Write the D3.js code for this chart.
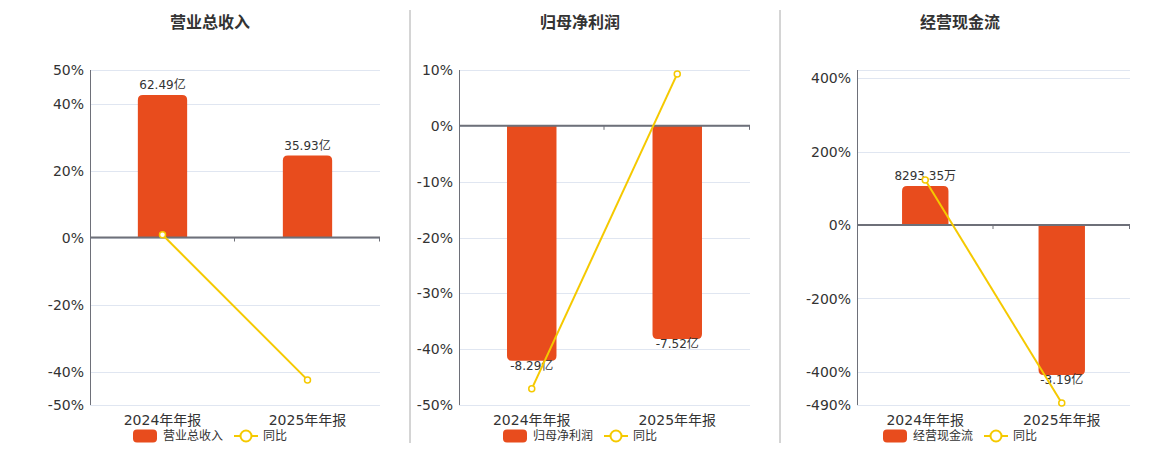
<!DOCTYPE html>
<html><head><meta charset="utf-8">
<script src="https://cdn.jsdelivr.net/npm/d3@7"></script>
<style>
html,body{margin:0;padding:0;background:#fff;}
text{font-family:"DejaVu Sans","Noto Sans CJK SC",sans-serif;}
</style></head>
<body><svg id="c" width="1160" height="450"></svg>
<script>
const categories = ["2024年年报", "2025年年报"];
const titles = ["营业总收入", "归母净利润", "经营现金流"];
const barValues = [[62.49, 35.93], [-8.29, -7.52], [0.829335, -3.19]];
const barLabels = [["62.49亿", "35.93亿"], ["-8.29亿", "-7.52亿"], ["8293.35万", "-3.19亿"]];
const yoyValues = [[0.8, -42.5], [-47.1, 9.3], [122.5, -484.8]];
const pctDomains = [[-50, 50], [-50, 10], [-490, 422]];
const pctTicks = [[50, 40, 20, 0, -20, -40, -50], [10, 0, -10, -20, -30, -40, -50], [400, 200, 0, -200, -400, -490]];
const barMins = [-73.5, -9.85, -3.83];

const panels = [
  {left: 90, right: 380, titleX: 210},
  {left: 459, right: 750, titleX: 580},
  {left: 857, right: 1130, titleX: 960}
];
const TOP = 70, BOTTOM = 405;
const BAR = "#E84C1D", LINE = "#F5C900", AXIS = "#6E7079", GRID = "#E0E6F1", TXT = "#333";

const svg = d3.select("#c");

[410, 780].forEach(x => svg.append("line").attr("x1", x).attr("x2", x).attr("y1", 10).attr("y2", 443)
  .attr("stroke", "#aaa").attr("stroke-width", 1));

panels.forEach((p, i) => {
  const g = svg.append("g");
  const y = d3.scaleLinear().domain(pctDomains[i]).range([BOTTOM, TOP]);
  const bMin = barMins[i];
  const bMax = bMin * pctDomains[i][1] / pctDomains[i][0];
  const yb = d3.scaleLinear().domain([bMin, bMax]).range([BOTTOM, TOP]);
  const x = d3.scaleBand().domain(categories).range([p.left, p.right]).padding(0);
  const bw = x.bandwidth() * 0.34;
  const y0 = y(0);

  // title
  g.append("text").attr("x", p.titleX).attr("y", 28).attr("text-anchor", "middle")
    .attr("font-size", 16).attr("font-weight", "bold").attr("fill", TXT).text(titles[i]);

  // grid
  g.selectAll(".grid").data(pctTicks[i].concat([pctDomains[i][1]])).enter().append("line")
    .attr("x1", p.left).attr("x2", p.right)
    .attr("y1", d => Math.round(y(d)) + 0.5).attr("y2", d => Math.round(y(d)) + 0.5)
    .attr("stroke", GRID).attr("stroke-width", 1);

  // y axis labels
  g.selectAll(".yl").data(pctTicks[i]).enter().append("text")
    .attr("x", p.left - 6).attr("y", d => y(d)).attr("dy", "0.36em")
    .attr("text-anchor", "end").attr("font-size", 14).attr("fill", TXT)
    .text(d => d + "%");

  // bars
  const r = 5;
  categories.forEach((c, j) => {
    const v = barValues[i][j];
    const x0 = x(c) + (x.bandwidth() - bw) / 2, x1 = x0 + bw;
    const ye = yb(v);
    let d;
    if (v >= 0) {
      d = `M${x0},${y0}V${ye + r}Q${x0},${ye} ${x0 + r},${ye}H${x1 - r}Q${x1},${ye} ${x1},${ye + r}V${y0}Z`;
    } else {
      d = `M${x0},${y0}V${ye - r}Q${x0},${ye} ${x0 + r},${ye}H${x1 - r}Q${x1},${ye} ${x1},${ye - r}V${y0}Z`;
    }
    g.append("path").attr("d", d).attr("fill", BAR);
    g.append("text").attr("x", x(c) + x.bandwidth() / 2)
      .attr("y", v >= 0 ? ye - 6 : ye + 9)
      .attr("text-anchor", "middle").attr("font-size", 12).attr("fill", TXT)
      .text(barLabels[i][j]);
  });

  // axes
  g.append("line").attr("x1", p.left + 0.5).attr("x2", p.left + 0.5).attr("y1", TOP).attr("y2", BOTTOM)
    .attr("stroke", AXIS).attr("stroke-width", 1);
  g.append("line").attr("x1", p.left).attr("x2", p.right).attr("y1", y0).attr("y2", y0)
    .attr("stroke", AXIS).attr("stroke-width", 2);
  [x(categories[1]), p.right].forEach(tx => g.append("line")
    .attr("x1", tx - 0.5).attr("x2", tx - 0.5).attr("y1", y0).attr("y2", y0 + 4)
    .attr("stroke", AXIS).attr("stroke-width", 1));

  // x labels
  g.selectAll(".xl").data(categories).enter().append("text")
    .attr("x", d => x(d) + x.bandwidth() / 2).attr("y", 425)
    .attr("text-anchor", "middle").attr("font-size", 14).attr("fill", TXT).text(d => d);

  // yoy line
  const pts = categories.map((c, j) => [x(c) + x.bandwidth() / 2, y(yoyValues[i][j])]);
  g.append("path").attr("d", d3.line()(pts)).attr("fill", "none").attr("stroke", LINE).attr("stroke-width", 2);
  g.selectAll(".pt").data(pts).enter().append("circle")
    .attr("cx", d => d[0]).attr("cy", d => d[1]).attr("r", 3)
    .attr("fill", "#fff").attr("stroke", LINE).attr("stroke-width", 1.5);

  // legend (centred under the panel title)
  const lx = p.titleX - 77;
  const ly = 436;
  g.append("rect").attr("x", lx).attr("y", ly - 6.5).attr("width", 24).attr("height", 13).attr("rx", 4)
    .attr("fill", BAR);
  g.append("text").attr("x", lx + 30).attr("y", ly).attr("dy", "0.36em").attr("font-size", 12)
    .attr("fill", TXT).text(titles[i]);
  const l2 = lx + 101;
  g.append("line").attr("x1", l2).attr("x2", l2 + 24).attr("y1", ly).attr("y2", ly)
    .attr("stroke", LINE).attr("stroke-width", 2);
  g.append("circle").attr("cx", l2 + 12).attr("cy", ly).attr("r", 5.5)
    .attr("fill", "#fff").attr("stroke", LINE).attr("stroke-width", 2);
  g.append("text").attr("x", l2 + 29).attr("y", ly).attr("dy", "0.36em").attr("font-size", 12)
    .attr("fill", TXT).text("同比");
});
</script></body></html>
